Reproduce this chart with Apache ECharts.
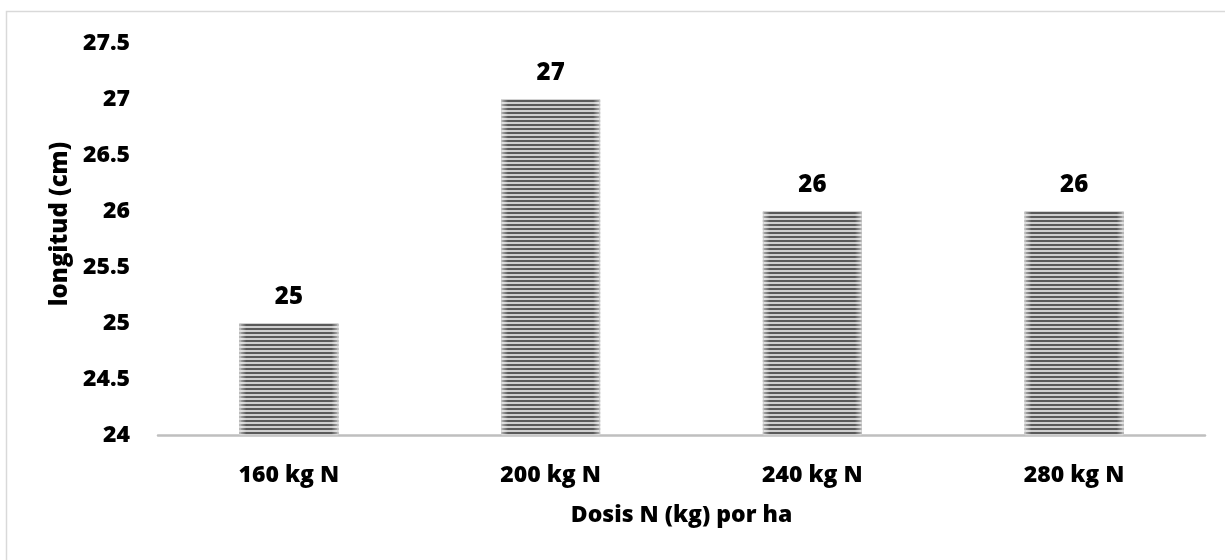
<!DOCTYPE html>
<html>
<head>
<meta charset="utf-8">
<script src="https://cdn.jsdelivr.net/npm/echarts@6/dist/echarts.min.js"></script>
<style>
html,body{margin:0;padding:0;background:#fff;}
#chart{width:1225px;height:560px;}
</style>
</head>
<body>
<div id="chart"></div>
<script>
const categories = ['160 kg N', '200 kg N', '240 kg N', '280 kg N'];
const values = [25, 27, 26, 26];
const yTicks = { min: 24, max: 27.5, interval: 0.5 };
const xTitle = 'Dosis N (kg) por ha';
const yTitle = 'longitud (cm)';

const FONT = '"Open Sans", "Noto Sans", sans-serif';

// stripe pattern
const pc = document.createElement('canvas');
pc.width = 4; pc.height = 4;
const pctx = pc.getContext('2d');
pctx.fillStyle = '#cfcfcf';
pctx.fillRect(0, 0, 4, 4);
pctx.fillStyle = '#5a5a5a';
pctx.fillRect(0, 0, 4, 2);

const chart = echarts.init(document.getElementById('chart'), null, { renderer: 'canvas' });
chart.setOption({
  backgroundColor: '#fff',
  animation: false,
  graphic: [{
    type: 'rect',
    shape: { x: 6.5, y: 11.5, width: 1240, height: 600 },
    style: { fill: 'none', stroke: '#d9d9d9', lineWidth: 1.5 },
    silent: true
  }],
  grid: { left: 158, right: 20, top: 43, bottom: 125 },
  xAxis: {
    type: 'category',
    data: categories,
    axisLine: { lineStyle: { color: '#bfbfbf', width: 2.5 } },
    axisTick: { show: false },
    axisLabel: { color: '#000', fontFamily: FONT, fontWeight: 800, fontSize: 23, margin: 29 },
    name: xTitle,
    nameLocation: 'middle',
    nameGap: 69,
    nameTextStyle: { color: '#000', fontFamily: FONT, fontWeight: 800, fontSize: 23 }
  },
  yAxis: {
    type: 'value',
    min: yTicks.min, max: yTicks.max, interval: yTicks.interval,
    axisLine: { show: false },
    axisTick: { show: false },
    splitLine: { show: false },
    axisLabel: { color: '#000', fontFamily: FONT, fontWeight: 800, fontSize: 23, margin: 28 },
    name: yTitle,
    nameLocation: 'middle',
    nameGap: 84,
    nameTextStyle: { color: '#000', fontFamily: FONT, fontWeight: 800, fontSize: 24, padding: [0, 0, 0, 30] }
  },
  series: [{
    type: 'bar',
    data: values,
    barWidth: 99,
    itemStyle: { color: { image: pc, repeat: 'repeat' } },
    silent: true
  }, {
    type: 'bar',
    data: values,
    barWidth: 99,
    barGap: '-100%',
    silent: true,
    itemStyle: {
      color: {
        type: 'linear', x: 0, y: 0, x2: 1, y2: 0,
        colorStops: [
          { offset: 0, color: 'rgba(255,255,255,0.55)' },
          { offset: 0.07, color: 'rgba(255,255,255,0)' },
          { offset: 0.93, color: 'rgba(255,255,255,0)' },
          { offset: 1, color: 'rgba(255,255,255,0.55)' }
        ]
      },
      borderColor: 'rgba(210,210,210,0.8)',
      borderWidth: 1
    },
    label: {
      show: true,
      position: 'top',
      distance: 14,
      color: '#000',
      fontFamily: FONT,
      fontWeight: 800,
      fontSize: 24
    }
  }]
});
</script>
</body>
</html>
